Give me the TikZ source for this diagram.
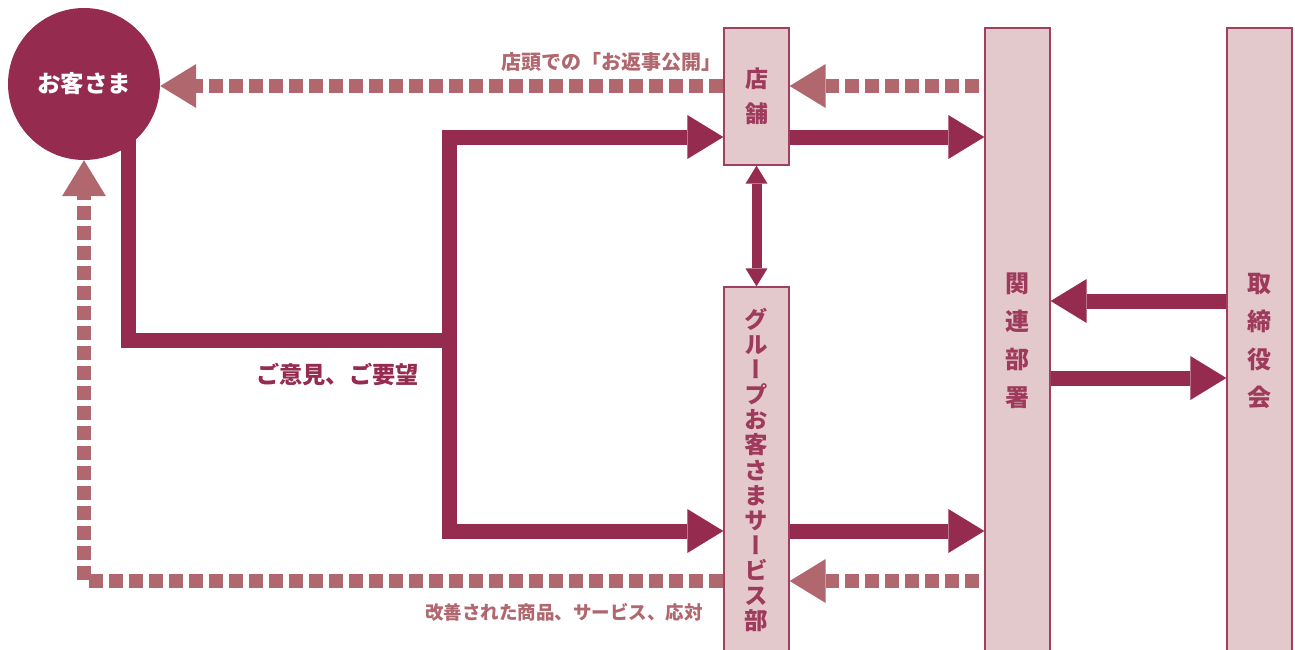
\documentclass[tikz,border=0pt]{standalone}
\usepackage{fontspec}
\setmainfont{Noto Sans CJK JP}
\newfontfamily\vjp{Noto Sans CJK JP}[RawFeature=+vert]
\usetikzlibrary{arrows.meta,calc}
\definecolor{dark}{HTML}{952B4E}
\definecolor{lightd}{HTML}{B0676E}
\definecolor{boxfill}{HTML}{E4C9CC}
\definecolor{boxline}{HTML}{A0405F}
\definecolor{boxtext}{HTML}{9E3A5C}
\tikzset{
  orgbox/.style={draw=boxline, line width=1.3pt, fill=boxfill, minimum width=65pt, inner sep=0pt, align=center, text=boxtext},
  solidline/.style={draw=dark, line width=15pt, line join=miter, line cap=butt},
  solidarr/.style={solidline, -{Triangle[length=36pt,width=44pt,line width=0pt]}},
  dasharr/.style={draw=lightd, line width=14pt, line cap=butt, line join=miter, dash pattern=on 14pt off 6pt, -{Triangle[length=36pt,width=44pt,line width=0pt]}},
  dblarr/.style={draw=dark, line width=10pt, {Triangle[length=18pt,width=22pt,line width=0pt]}-{Triangle[length=18pt,width=22pt,line width=0pt]}},
  lbl/.style={inner sep=0pt, text=lightd, font=\bfseries\fontsize{18.5}{20}\selectfont},
  dlbl/.style={inner sep=0pt, text=dark, font=\bfseries\fontsize{23.2}{25}\selectfont}
}
\begin{document}
\begin{tikzpicture}[x=1pt,y=-1pt]
\useasboundingbox (0,0) rectangle (1295,649);
\clip (0,0) rectangle (1295,649);
% level coordinates
\coordinate (yS) at (0,137);
\coordinate (yD) at (0,86);
\coordinate (yS2) at (0,531);
\coordinate (yD2) at (0,581);
\coordinate (yB1) at (0,301);
\coordinate (yB2) at (0,378);
\coordinate (br) at (449,340);
% boxes
\node[orgbox, minimum height=137pt, font=\vjp\bfseries\fontsize{23}{35}\selectfont] (store) at (756.5,96.5) {店\\舗};
\node[orgbox, minimum height=366pt, font=\vjp\bfseries\fontsize{23.5}{25.1}\selectfont] (grp) at (756.5,470) {グ\\ル\\ー\\プ\\お\\客\\さ\\ま\\サ\\ー\\ビ\\ス\\部};
\node[orgbox, minimum height=626pt, font=\vjp\bfseries\fontsize{24}{38}\selectfont] (dept) at (1017.5,341) {関\\連\\部\\署};
\node[orgbox, minimum height=626pt, font=\vjp\bfseries\fontsize{24}{38}\selectfont] (board) at (1259.5,341) {取\\締\\役\\会};
% solid flows
\draw[solidline] ($(84,84)+(44,0)$) |- (br);
\node[circle, fill=dark, minimum size=152pt, inner sep=0pt, text=white, font=\bfseries\fontsize{23.5}{25}\selectfont] (cust) at (84,84) {お客さま};
\draw[solidarr] (br) |- (store.west |- yS);
\draw[solidarr] (br) |- (grp.west |- yS2);
\draw[solidarr] (store.east |- yS) -- (dept.west |- yS);
\draw[solidarr] (grp.east |- yS2) -- (dept.west |- yS2);
\draw[solidarr] (board.west |- yB1) -- (dept.east |- yB1);
\draw[solidarr] (dept.east |- yB2) -- (board.west |- yB2);
\draw[dblarr] (store.south) -- (grp.north);
% dashed flows
\draw[dasharr] ($(dept.west |- yD)+(-5,0)$) -- (store.east |- yD);
\draw[dasharr] (store.west |- yD) -- (cust.east |- yD);
\draw[dasharr] (grp.west |- yD2) -| (cust.south);
\draw[dasharr] ($(dept.west |- yD2)+(-5,0)$) -- (grp.east |- yD2);
% labels
\node[lbl, anchor=east, font=\bfseries\fontsize{20}{22}\selectfont] (l1) at (722,62) {店頭での「お返事公開」};
\node[lbl, anchor=east] (l2) at (703,612) {改善された商品、サービス、応対};
\node[dlbl, anchor=west] (l3) at (256,374) {ご意見、ご要望};
\end{tikzpicture}
\end{document}
